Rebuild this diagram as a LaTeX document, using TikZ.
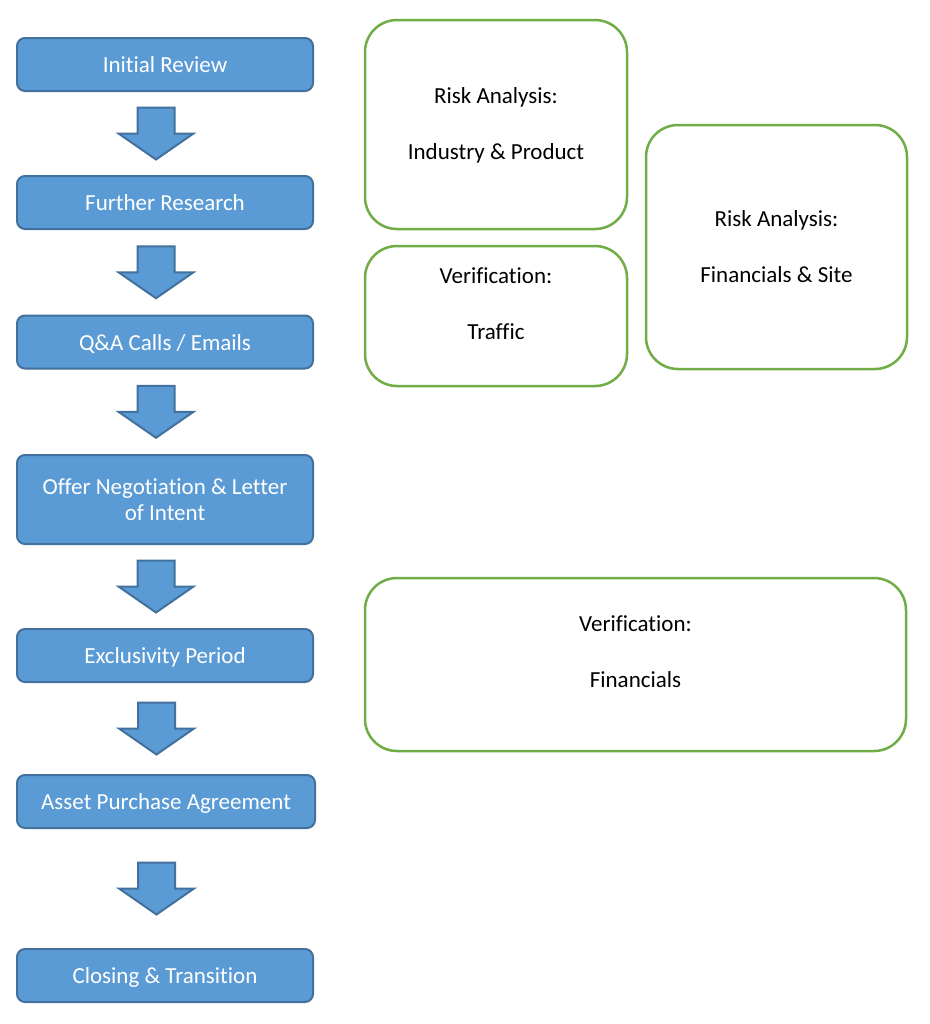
\documentclass[tikz,border=0pt]{standalone}
\usepackage{fontspec}
\setmainfont{Carlito}[Ligatures=NoCommon, Contextuals=NoAlternate]
\usepackage{tikz}
\usetikzlibrary{shapes,arrows,positioning,calc}
\definecolor{stepblue}{HTML}{5B9BD5}
\definecolor{stepedge}{HTML}{41719C}
\definecolor{checkgreen}{HTML}{70AD47}
\tikzstyle{process} = [rectangle, rounded corners=4pt, minimum width=148pt, minimum height=26.5pt, align=center, draw=stepedge, line width=1pt, fill=stepblue, text=white, font=\fontsize{11.5}{13}\selectfont]
\tikzstyle{oneline} = [process, text height=10pt, text depth=2pt]
\tikzstyle{check} = [rectangle, rounded corners=16pt, draw=checkgreen, line width=1.25pt, fill=white]
\tikzstyle{checktext} = [align=center, font=\fontsize{11.5}{14}\selectfont]
\tikzstyle{blockarrow} = [draw=stepedge, line width=1pt, fill=stepblue, line join=miter]

\newcommand{\flowarrow}[2]{%
  \coordinate (#1-#2) at ($(#1.south)!0.5!(#2.north)+(-9,0)$);
  \draw[blockarrow] ($(#1-#2)+(-18.5,-26)$) -- ++(37,0) -- ++(0,26) -- ++(19,0)
    -- ($(#1-#2)+(0,26)$) -- ++(-37.5,-26) -- ++(19,0) -- cycle;
}

\begin{document}
\begin{tikzpicture}[x=0.5pt, y=-0.5pt]
        \fill[white] (0,0) rectangle (930,1024);
        \useasboundingbox (0,0) rectangle (930,1024);

        % Steps
        \node (review) [oneline] at (165,64.5) {Initial Review};
        \node (research) [oneline] at (165,202.5) {Further Research};
        \node (calls) [oneline] at (165,342) {Q\&A Calls / Emails};
        \node (offer) [process, minimum height=44.5pt] at (165,499.5) {Offer Negotiation \& Letter\\of Intent};
        \node (exclusive) [oneline] at (165,655.5) {Exclusivity Period};
        \node (purchase) [oneline, minimum width=149pt] at (166,801.5) {Asset Purchase Agreement};
        \node (closing) [oneline] at (165,975.5) {Closing \& Transition};

        % Arrows
        \flowarrow{review}{research}
        \flowarrow{research}{calls}
        \flowarrow{calls}{offer}
        \flowarrow{offer}{exclusive}
        \flowarrow{exclusive}{purchase}
        \flowarrow{purchase}{closing}

        % Checks
        \node (riskproduct) [check, minimum width=131pt, minimum height=104.5pt] at (496,124.5) {};
        \node (riskproducttxt) [checktext] at ($(riskproduct)+(0,1)$) {Risk Analysis:\\[14pt]Industry \& Product};
        \node (traffic) [check, minimum width=131pt, minimum height=70pt] at (496,316) {};
        \node (traffictxt) [checktext] at ($(traffic)+(0,-12)$) {Verification:\\[14pt]Traffic};
        \node (risksite) [check, minimum width=130.5pt, minimum height=122pt] at (776.5,247) {};
        \node (risksitetxt) [checktext] at ($(risksite)+(0,0)$) {Risk Analysis:\\[14pt]Financials \& Site};
        \node (financials) [check, minimum width=270.5pt, minimum height=86.5pt] at (635.5,664.5) {};
        \node (financialstxt) [checktext] at ($(financials)+(0,-12.5)$) {Verification:\\[14pt]Financials};
    \end{tikzpicture}
\end{document}
